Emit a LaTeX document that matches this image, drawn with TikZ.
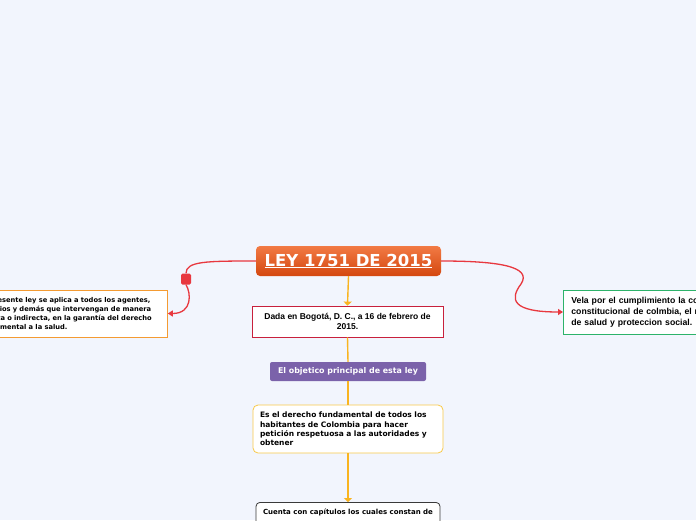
\documentclass[tikz,border=0pt]{standalone}
\usepackage{fontspec}
\setmainfont{DejaVu Sans}
\newfontfamily\arial{Liberation Sans}
\usetikzlibrary{arrows.meta}
\definecolor{bg}{HTML}{F2F5FD}
\definecolor{conno}{HTML}{F9B420}
\definecolor{connr}{HTML}{E8383F}
\definecolor{ctop}{HTML}{F27A44}
\definecolor{cbot}{HTML}{D4470F}
\definecolor{bord1}{HTML}{F49B32}
\definecolor{bord2}{HTML}{2DB36A}
\definecolor{bord3}{HTML}{C8203C}
\definecolor{purp}{HTML}{7B62AA}
\definecolor{bord4}{HTML}{F8C94A}
\definecolor{bord5}{HTML}{3A3A3A}
\tikzset{
  oconn/.style={draw=conno, line width=1.4pt},
  rconn/.style={draw=connr, line width=1.3pt},
  otip/.style={-{Triangle[width=8pt,length=4pt]}},
  rtip/.style={-{Triangle[width=6pt,length=5pt]}},
}
\begin{document}
\begin{tikzpicture}[x=1pt,y=-1pt]
\useasboundingbox (0,0) rectangle (696,520);
\fill[bg] (0,0) rectangle (696,520);
\clip (0,0) rectangle (696,520);

% central
\node[rounded corners=4pt, top color=ctop, bottom color=cbot, draw=none,
      minimum width=185pt, minimum height=30pt, inner sep=0pt,
      text=white, font=\fontsize{16.5}{18}\bfseries] (ley) at (348.5,261)
      {\underline{LEY 1751 DE 2015}};

% left node
\node[draw=bord1, line width=0.8pt, fill=white, align=left, anchor=west,
      text width=181pt, inner xsep=8pt, minimum height=47pt,
      font=\fontsize{6.7}{9}\bfseries] (izq) at (-30,313.5)
      {La presente ley se aplica a todos los agentes,\\
       usuarios y demás que intervengan de manera\\
       directa o indirecta, en la garantía del derecho\\
       fundamental a la salud.};

% right node
\node[draw=bord2, line width=0.8pt, fill=white, align=left, anchor=west,
      text width=190pt, inner xsep=8pt, minimum height=44pt,
      font=\arial\fontsize{8.7}{11}\bfseries] (der) at (563,312)
      {Vela por el cumplimiento la corte\\
       constitucional de colmbia, el ministerio\\
       de salud y proteccion social.};

% dada
\node[draw=bord3, line width=0.8pt, fill=white, align=center,
      minimum width=191pt, minimum height=31pt, inner sep=0pt,
      font=\arial\fontsize{8.5}{10}\bfseries] (dada) at (347.5,321.5)
      {Dada en Bogotá, D. C., a 16 de febrero de\\2015.};

% purple
\node[fill=purp, rounded corners=2pt, text=white,
      minimum width=156pt, minimum height=19pt, inner sep=0pt,
      font=\fontsize{7.9}{9}\bfseries] (obj) at (348,371.5)
      {El objetico principal de esta ley};

% es el
\node[draw=bord4, line width=0.8pt, fill=white, rounded corners=5pt, align=left,
      text width=176pt, inner xsep=7pt, minimum height=48pt,
      font=\fontsize{7.5}{9.3}\bfseries] (der2) at (348,429)
      {Es el derecho fundamental de todos los\\
       habitantes de Colombia para hacer\\
       petición respetuosa a las autoridades y\\
       obtener};

% cuenta
\node[draw=bord5, line width=0.8pt, fill=white, rounded corners=4pt, anchor=north,
      minimum width=184pt, inner ysep=6pt, text depth=25pt,
      font=\fontsize{7}{8}\bfseries] (cuenta) at (348,502)
      {Cuenta con capítulos los cuales constan de};

% orange connectors
\draw[oconn, otip] (ley.south) -- (dada.north);
\draw[oconn] (dada.south) -- (obj.north);
\draw[oconn] (obj.south) -- (der2.north);
\draw[oconn, otip] (der2.south) -- (cuenta.north);

% left red connector with marker
\node[fill=connr, rounded corners=1.5pt, minimum width=10pt, minimum height=11pt, inner sep=0pt] (mk) at (186,279) {};
\draw[rconn] (ley.west) .. controls +(-50,0) and +(0,-12) .. (mk.north);
\draw[rconn, rtip] (mk.south) .. controls +(5,8) and +(25,0) .. (izq.east);

% right red connector
\coordinate (bend) at (521,284);
\draw[rconn] (ley.east) .. controls +(55,0) and +(12,-18) .. (bend);
\draw[rconn, rtip] (bend) .. controls +(-12,16) and +(-50,0) .. (der.west);
\end{tikzpicture}
\end{document}
